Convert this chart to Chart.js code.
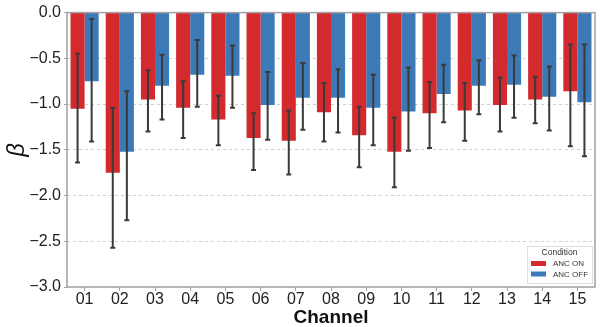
<!DOCTYPE html>
<html>
<head>
<meta charset="utf-8">
<script src="https://cdn.jsdelivr.net/npm/chart.js@4"></script>
<style>
  html, body { margin: 0; padding: 0; background: #fff; }
  #wrap { width: 600px; height: 327px; }
</style>
</head>
<body>
<div id="wrap"><canvas id="myChart" width="600" height="327"></canvas></div>
<script>
// channels on the x axis
var channels = ['01','02','03','04','05','06','07','08','09','10','11','12','13','14','15'];

// mean beta per channel
var ancOn  = [-1.05, -1.75, -0.95, -1.04, -1.17, -1.37, -1.40, -1.09, -1.34, -1.52, -1.10, -1.07, -1.01, -0.95, -0.86];
var ancOff = [-0.75, -1.52, -0.80, -0.68, -0.69, -1.01, -0.93, -0.93, -1.04, -1.08, -0.89, -0.80, -0.79, -0.92, -0.98];

// error bar ends (upper, lower)
var ancOnHigh  = [-0.45, -1.04, -0.63, -0.75, -0.91, -1.10, -1.07, -0.77, -1.03, -1.15, -0.76, -0.77, -0.71, -0.70, -0.35];
var ancOnLow   = [-1.64, -2.57, -1.30, -1.37, -1.45, -1.72, -1.77, -1.41, -1.69, -1.91, -1.48, -1.40, -1.30, -1.21, -1.46];
var ancOffHigh = [-0.07, -0.86, -0.46, -0.30, -0.36, -0.65, -0.55, -0.62, -0.68, -0.60, -0.57, -0.52, -0.47, -0.59, -0.35];
var ancOffLow  = [-1.41, -2.27, -1.17, -1.03, -1.04, -1.39, -1.28, -1.31, -1.45, -1.51, -1.20, -1.11, -1.15, -1.29, -1.57];

// y axis ticks
var yTicks = [0, -0.5, -1.0, -1.5, -2.0, -2.5, -3.0];

var red = '#d42a2e';
var blue = '#3b7ab6';
var fontFamily = '"Liberation Sans", Arial, sans-serif';

// draws the error bars from the arrays above
var errorBars = {
    id: 'errorBars',
    afterDatasetsDraw: function(chart) {
        var ctx = chart.ctx;
        var yScale = chart.scales.y;
        var ends = [[ancOnHigh, ancOnLow], [ancOffHigh, ancOffLow]];
        ctx.save();
        ctx.strokeStyle = '#3a3a3a';
        ctx.lineWidth = 2;
        ends.forEach(function(pair, i) {
            var meta = chart.getDatasetMeta(i);
            meta.data.forEach(function(bar, j) {
                var x = bar.x;
                var yHi = yScale.getPixelForValue(pair[0][j]);
                var yLo = yScale.getPixelForValue(pair[1][j]);
                ctx.beginPath();
                ctx.moveTo(x, yHi); ctx.lineTo(x, yLo);
                ctx.moveTo(x - 2.5, yHi); ctx.lineTo(x + 2.5, yHi);
                ctx.moveTo(x - 2.5, yLo); ctx.lineTo(x + 2.5, yLo);
                ctx.stroke();
            });
        });
        ctx.restore();
    }
};

// frame around the plot + the small legend in the lower right
var frameAndLegend = {
    id: 'frameAndLegend',
    afterDraw: function(chart) {
        var ctx = chart.ctx;
        var a = chart.chartArea;
        ctx.save();
        ctx.strokeStyle = '#a0a0a0';
        ctx.lineWidth = 1.5;
        ctx.strokeRect(a.left, a.top, a.right - a.left, a.bottom - a.top);

        // legend box
        var bx = a.right - 68, by = a.bottom - 41, bw = 65, bh = 37;
        ctx.fillStyle = 'rgba(255,255,255,0.9)';
        ctx.fillRect(bx, by, bw, bh);
        ctx.strokeStyle = '#dddddd';
        ctx.lineWidth = 1;
        ctx.strokeRect(bx + 0.5, by + 0.5, bw, bh);

        ctx.fillStyle = '#333';
        ctx.font = '8.5px ' + fontFamily;
        ctx.textAlign = 'center';
        ctx.textBaseline = 'middle';
        ctx.fillText('Condition', bx + bw / 2, by + 6.5);

        ctx.font = '8px ' + fontFamily;
        ctx.textAlign = 'left';
        chart.data.datasets.forEach(function(ds, i) {
            var ry = by + 17.5 + i * 10.5;
            ctx.fillStyle = ds.backgroundColor;
            ctx.fillRect(bx + 4, ry - 2.5, 15, 5);
            ctx.fillStyle = '#333';
            ctx.fillText(ds.label, bx + 26, ry + 0.5);
        });
        ctx.restore();
    }
};

var data = {
    labels: channels,
    datasets: [
        { label: 'ANC ON',  data: ancOn,  backgroundColor: red },
        { label: 'ANC OFF', data: ancOff, backgroundColor: blue }
    ]
};

var options = {
    responsive: false,
    animation: false,
    layout: { padding: { top: 11, right: 5, left: 0, bottom: 0 } },
    datasets: { bar: { categoryPercentage: 0.8, barPercentage: 1.0, base: 0 } },
    plugins: {
        legend: { display: false },
        tooltip: { enabled: false }
    },
    scales: {
        x: {
            grid: {
                offset: false,
                drawOnChartArea: false,
                drawTicks: true,
                tickLength: 4,
                color: '#a0a0a0'
            },
            border: { display: false },
            ticks: {
                color: '#222',
                padding: -1,
                font: { family: fontFamily, size: 16 },
                maxRotation: 0
            },
            title: {
                display: true,
                text: 'Channel',
                color: '#111',
                padding: { top: 0, bottom: 0 },
                font: { family: fontFamily, size: 19, weight: 'bold', lineHeight: 1.0 }
            },
            afterFit: function(scale) { scale.height = 40; }
        },
        y: {
            min: -3,
            max: 0,
            afterBuildTicks: function(scale) {
                scale.ticks = yTicks.map(function(v) { return { value: v }; });
            },
            grid: {
                color: function(c) {
                    var v = c.tick && c.tick.value;
                    return (v === 0 || v === -3) ? 'rgba(0,0,0,0)' : '#d0d0d0';
                },
                tickColor: '#a0a0a0',
                tickLength: 3,
                lineWidth: 1
            },
            border: { display: false, dash: [3, 3] },
            ticks: {
                color: '#222',
                padding: 3,
                font: { family: fontFamily, size: 16 },
                callback: function(v) {
                    return (v < 0 ? '\u2212' : '') + Math.abs(v).toFixed(1);
                }
            },
            title: {
                display: true,
                text: '\u03b2',
                color: '#111',
                padding: { top: 3, bottom: 0 },
                font: { family: fontFamily, size: 24, style: 'italic' }
            },
            afterFit: function(scale) { scale.width = 67; }
        }
    }
};

var ctx = document.getElementById('myChart').getContext('2d');
var myChart = new Chart(ctx, {
    type: 'bar',
    data: data,
    options: options,
    plugins: [errorBars, frameAndLegend]
});
</script>
</body>
</html>
